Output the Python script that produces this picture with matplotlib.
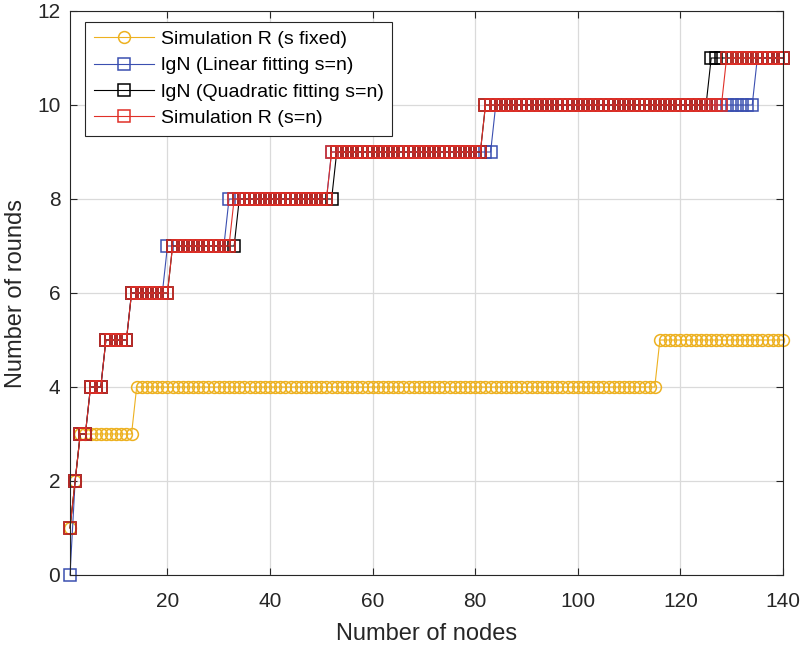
import numpy as np
import matplotlib
matplotlib.use("Agg")
import matplotlib.pyplot as plt

plt.rcParams["font.family"] = ["Liberation Sans", "DejaVu Sans"]

# Colours (MATLAB-like)
Yellow_Line = "#EDB120"
Blue_Line = "#3B4FB0"
Black_Line = "#000000"
Red_Line = "#E03028"

# Number of nodes
nodes = np.arange(1, 141)

# Step levels: each level starts at the given node count
fixed_start = [1, 2, 3, 14, 116]
fixed_level = [1, 2, 3, 4, 5]

linear_start = [1, 2, 3, 5, 8, 13, 20, 32, 52, 84, 135]
linear_level = [0, 2, 3, 4, 5, 6, 7, 8, 9, 10, 11]

quad_start = [1, 2, 3, 5, 8, 13, 21, 34, 53, 82, 126]
quad_level = [1, 2, 3, 4, 5, 6, 7, 8, 9, 10, 11]

sim_start = [1, 2, 3, 5, 8, 13, 21, 33, 52, 82, 129]
sim_level = [1, 2, 3, 4, 5, 6, 7, 8, 9, 10, 11]


def expand(starts, levels):
    counts = np.diff(list(starts) + [nodes[-1] + 1])
    return np.repeat(levels, counts)


rounds_fixed = expand(fixed_start, fixed_level)
rounds_linear = expand(linear_start, linear_level)
rounds_quad = expand(quad_start, quad_level)
rounds_sim = expand(sim_start, sim_level)

fig = plt.figure(figsize=(8.07, 6.46), dpi=100)
ax = fig.add_axes([70 / 807, (646 - 575) / 646, (783 - 70) / 807, (575 - 11) / 646])

ms = 8.5
lw = 0.8
series = [
    (rounds_fixed, "o", Yellow_Line, "Simulation R (s fixed)"),
    (rounds_linear, "s", Blue_Line, "lgN (Linear fitting s=n)"),
    (rounds_quad, "s", Black_Line, "lgN (Quadratic fitting s=n)"),
    (rounds_sim, "s", Red_Line, "Simulation R (s=n)"),
]
for vals, mk, col, lab in series:
    ax.plot(nodes, vals, "-" + mk, color=col, markersize=ms, mfc="none",
            mew=1.1, lw=lw, label=lab, clip_on=False, zorder=3)

ax.set_xlim(1, 140)
ax.set_ylim(0, 12)
ax.set_xticks(np.arange(20, 141, 20))
ax.set_yticks(np.arange(0, 13, 2))
ax.grid(True, color="#DADADA", linewidth=0.9)
ax.set_axisbelow(True)
ax.tick_params(direction="in", top=True, right=True, labelsize=15, length=5,
               color="#262626", labelcolor="#262626")
ax.tick_params(axis="x", pad=12)
ax.tick_params(axis="y", pad=7)
for s in ax.spines.values():
    s.set_color("#262626")
    s.set_linewidth(0.8)
    s.set_zorder(4)

ax.set_xlabel("Number of nodes", fontsize=17, color="#262626", labelpad=9)
ax.set_ylabel("Number of rounds", fontsize=17, color="#262626", labelpad=7)

leg = ax.legend(loc="upper left", bbox_to_anchor=(0.021, 0.981), fontsize=14,
                fancybox=False, edgecolor="#262626", framealpha=1,
                handlelength=3.1, borderpad=0.45, labelspacing=0.45,
                handletextpad=0.35, borderaxespad=0)
leg.get_frame().set_linewidth(0.8)
leg.set_zorder(5)

plt.savefig("out.png", dpi=100)
